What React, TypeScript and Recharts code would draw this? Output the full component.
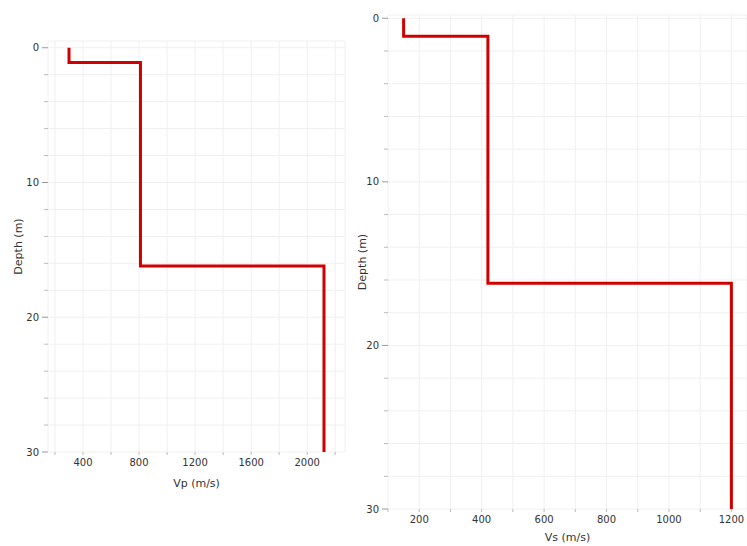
import React from 'react';
import { LineChart, Line, XAxis, YAxis, CartesianGrid } from 'recharts';

// layer boundaries (m) and interval velocities (m/s)
const depthBoundaries = [0, 1.1, 16.2, 30];
const vpValues = [300, 810, 2120];
const vsValues = [150, 420, 1200];

const vpTicks = [200, 400, 600, 800, 1000, 1200, 1400, 1600, 1800, 2000, 2200];
const vpLabels = [400, 800, 1200, 1600, 2000];
const vsTicks = [100, 200, 300, 400, 500, 600, 700, 800, 900, 1000, 1100, 1200];
const vsLabels = [200, 400, 600, 800, 1000, 1200];
const depthTicks = [0, 2, 4, 6, 8, 10, 12, 14, 16, 18, 20, 22, 24, 26, 28, 30];
const depthLabels = [0, 10, 20, 30];

const stepProfile = (vals: number[]) =>
    vals.flatMap((v, i) => [
        { v, d: depthBoundaries[i] },
        { v, d: depthBoundaries[i + 1] },
    ]);

const FONT = '"DejaVu Sans", Verdana, sans-serif';
const tickStyle = { fill: '#333', fontSize: 10, fontFamily: FONT };

// y ticks: long dash + label for majors, short dash for minors
const DepthTick = (props: any) => {
    const { x, y, payload } = props;
    const major = depthLabels.includes(payload.value);
    return (
        <g>
            <line
                x1={major ? x + 3 : x + 5}
                x2={x + 9}
                y1={y}
                y2={y}
                stroke={major ? '#999' : '#bbb'}
                strokeWidth={1}
            />
            {major && (
                <text x={x} y={y} dy="0.35em" textAnchor="end" {...tickStyle}>
                    {payload.value}
                </text>
            )}
        </g>
    );
};

const rotatedLabel = (text: string, x: number) => (props: any) => {
    const vb = props.viewBox;
    const cy = vb.y + vb.height / 2;
    return (
        <text
            x={x}
            y={cy}
            transform={`rotate(-90, ${x}, ${cy})`}
            textAnchor="middle"
            dominantBaseline="central"
            fill="#333"
            fontSize={11}
            fontFamily={FONT}
        >
            {text}
        </text>
    );
};

const bottomLabel = (text: string, y: number) => (props: any) => {
    const vb = props.viewBox;
    const cx = vb.x + vb.width / 2;
    return (
        <text x={cx} y={y} textAnchor="middle" fill="#333" fontSize={11} fontFamily={FONT}>
            {text}
        </text>
    );
};

interface ProfileProps {
    data: { v: number; d: number }[];
    width: number;
    height: number;
    top: number;
    right: number;
    xAxisHeight: number;
    xDomain: [number, number];
    yDomain: [number, number];
    xTicks: number[];
    xLabels: number[];
    xTitle: string;
    xTitleY: number;
    yTitleX: number;
}

function Profile(p: ProfileProps) {
    return (
        <LineChart
            width={p.width}
            height={p.height}
            data={p.data}
            margin={{ top: p.top, right: p.right, left: 0, bottom: 0 }}
        >
            <CartesianGrid stroke="#f0f0f0" strokeWidth={1} />
            <XAxis
                type="number"
                dataKey="v"
                domain={p.xDomain}
                allowDataOverflow
                ticks={p.xTicks}
                interval={0}
                height={p.xAxisHeight}
                axisLine={false}
                tickLine={{ stroke: '#bbb' }}
                tickSize={3}
                tickMargin={4}
                tick={tickStyle}
                tickFormatter={(t: number) => (p.xLabels.includes(t) ? String(t) : '')}
                label={{ content: bottomLabel(p.xTitle, p.xTitleY) }}
            />
            <YAxis
                type="number"
                dataKey="d"
                reversed
                domain={p.yDomain}
                allowDataOverflow
                ticks={depthTicks}
                interval={0}
                width={48}
                axisLine={false}
                tickLine={false}
                tickSize={6}
                tickMargin={3}
                tick={<DepthTick />}
                label={{ content: rotatedLabel('Depth (m)', p.yTitleX) }}
            />
            <Line
                type="linear"
                dataKey="d"
                stroke="#d10000"
                strokeWidth={3}
                dot={false}
                isAnimationActive={false}
            />
        </LineChart>
    );
}

export default function App() {
    return (
        <div style={{ position: 'absolute', left: 0, top: 0, width: 747, height: 546, background: '#fff', overflow: 'hidden' }}>
            <div style={{ position: 'absolute', left: 0, top: 0 }}>
                <Profile
                    data={stepProfile(vpValues)}
                    width={360}
                    height={500}
                    top={41}
                    right={15}
                    xAxisHeight={48}
                    xDomain={[150, 2270]}
                    yDomain={[-0.5, 30]}
                    xTicks={vpTicks}
                    xLabels={vpLabels}
                    xTitle="Vp (m/s)"
                    xTitleY={487}
                    yTitleX={18}
                />
            </div>
            <div style={{ position: 'absolute', left: 340, top: 0 }}>
                <Profile
                    data={stepProfile(vsValues)}
                    width={407}
                    height={546}
                    top={15}
                    right={0}
                    xAxisHeight={37}
                    xDomain={[100, 1250]}
                    yDomain={[-0.2, 30]}
                    xTicks={vsTicks}
                    xLabels={vsLabels}
                    xTitle="Vs (m/s)"
                    xTitleY={541}
                    yTitleX={22}
                />
            </div>
        </div>
    );
}
